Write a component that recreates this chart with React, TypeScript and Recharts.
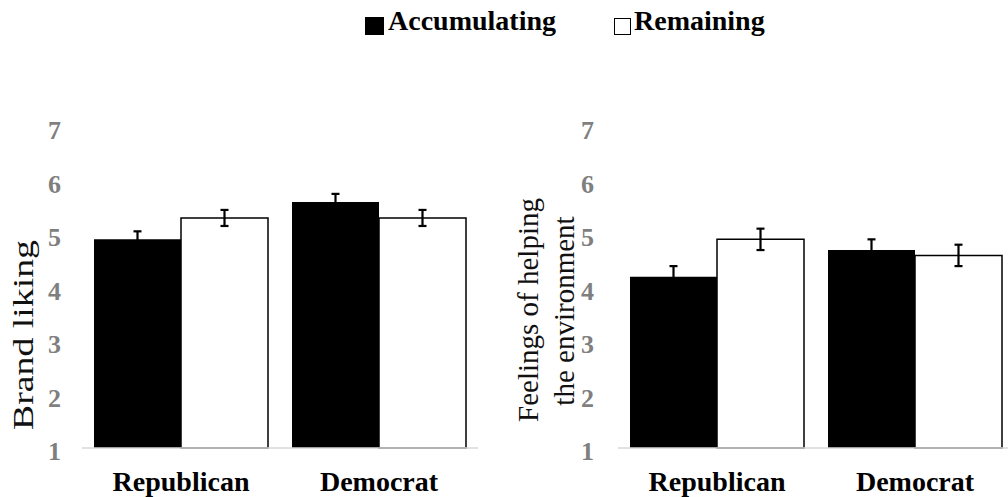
import React from 'react';
import { BarChart, Bar, XAxis, YAxis, ErrorBar } from 'recharts';

const categories = ['Republican', 'Democrat'];
const seriesNames = ['Accumulating', 'Remaining'];
const yTicks = [1, 2, 3, 4, 5, 6, 7];

// Brand liking
const brandAccumulating = [4.9, 5.6];
const brandAccumulatingErr = [0.15, 0.15];
const brandRemaining = [5.3, 5.3];
const brandRemainingErr = [0.15, 0.15];

// Feelings of helping the environment
const envAccumulating = [4.2, 4.7];
const envAccumulatingErr = [0.2, 0.2];
const envRemaining = [4.9, 4.6];
const envRemainingErr = [0.2, 0.2];

const FONT = '"Liberation Serif", "Times New Roman", serif';

const buildRows = (acc: number[], accErr: number[], rem: number[], remErr: number[]) =>
  categories.map((name, i) => ({
    name,
    acc: acc[i],
    accErr: accErr[i],
    rem: rem[i],
    remErr: remErr[i],
  }));

const brandData = buildRows(brandAccumulating, brandAccumulatingErr, brandRemaining, brandRemainingErr);
const envData = buildRows(envAccumulating, envAccumulatingErr, envRemaining, envRemainingErr);

// the original title is stretched along its length
const brandLabel = () => (
  <text
    x={0}
    y={0}
    transform="translate(33, 335) rotate(-90) scale(1.26, 1)"
    textAnchor="middle"
    fontFamily={FONT}
    fontSize={30}
    fill="#111"
  >
    Brand liking
  </text>
);

const envLabel = () => (
  <g fontFamily={FONT} fontSize={29} fill="#111">
    <text x={38} y={310} transform="rotate(-90, 38, 310)" textAnchor="middle">
      Feelings of helping
    </text>
    <text x={74} y={311} transform="rotate(-90, 74, 311)" textAnchor="middle">
      the environment
    </text>
  </g>
);

function Panel({
  data,
  width,
  marginLeft,
  marginRight,
  tickMargin,
  label,
}: {
  data: any[];
  width: number;
  marginLeft: number;
  marginRight: number;
  tickMargin: number;
  label: () => React.ReactNode;
}) {
  return (
    <BarChart
      width={width}
      height={497}
      data={data}
      margin={{ top: 127, right: marginRight, left: marginLeft, bottom: 0 }}
      barCategoryGap={12}
      barGap={0}
    >
      <XAxis
        dataKey="name"
        height={49}
        tickLine={false}
        tickSize={0}
        tickMargin={23}
        axisLine={{ stroke: '#d9d9d9', strokeWidth: 1.5 }}
        tick={{ fill: '#000', fontSize: 28, fontWeight: 'bold', fontFamily: FONT }}
      />
      <YAxis
        width={40}
        domain={[1, 7]}
        ticks={yTicks}
        interval={0}
        axisLine={false}
        tickLine={false}
        tickSize={0}
        tickMargin={tickMargin}
        tick={{ fill: '#7f7f7f', fontSize: 26, fontWeight: 'bold', fontFamily: FONT, dy: 3 }}
        label={{ content: label }}
      />
      <Bar dataKey="acc" name={seriesNames[0]} fill="#000" isAnimationActive={false}>
        <ErrorBar dataKey="accErr" width={4} stroke="#000" strokeWidth={2.2} />
      </Bar>
      <Bar dataKey="rem" name={seriesNames[1]} fill="#fff" stroke="#000" strokeWidth={1.5} isAnimationActive={false}>
        <ErrorBar dataKey="remErr" width={4} stroke="#000" strokeWidth={2.2} />
      </Bar>
    </BarChart>
  );
}

export default function App() {
  return (
    <div
      style={{
        position: 'absolute',
        left: 0,
        top: 0,
        width: 1008,
        height: 497,
        overflow: 'hidden',
        background: '#fff',
        fontFamily: FONT,
      }}
    >
      <div
        style={{
          position: 'absolute',
          left: 365,
          top: 7,
          display: 'flex',
          alignItems: 'center',
          lineHeight: '28px',
          fontSize: 28,
          fontWeight: 'bold',
          color: '#000',
          whiteSpace: 'nowrap',
        }}
      >
        <span
          style={{ display: 'inline-block', width: 19, height: 18, background: '#000', marginRight: 4, transform: 'translateY(5px)' }}
        />
        <span>{seriesNames[0]}</span>
        <span
          style={{
            display: 'inline-block',
            width: 15,
            height: 15,
            background: '#fff',
            border: '1.5px solid #000',
            marginLeft: 58,
            marginRight: 3,
            transform: 'translateY(5px)',
          }}
        />
        <span>{seriesNames[1]}</span>
      </div>
      <div style={{ position: 'absolute', left: 0, top: 0 }}>
        <Panel data={brandData} width={500} marginLeft={42} marginRight={22} tickMargin={21} label={brandLabel} />
      </div>
      <div style={{ position: 'absolute', left: 500, top: 0 }}>
        <Panel data={envData} width={514} marginLeft={78} marginRight={0} tickMargin={24} label={envLabel} />
      </div>
    </div>
  );
}
